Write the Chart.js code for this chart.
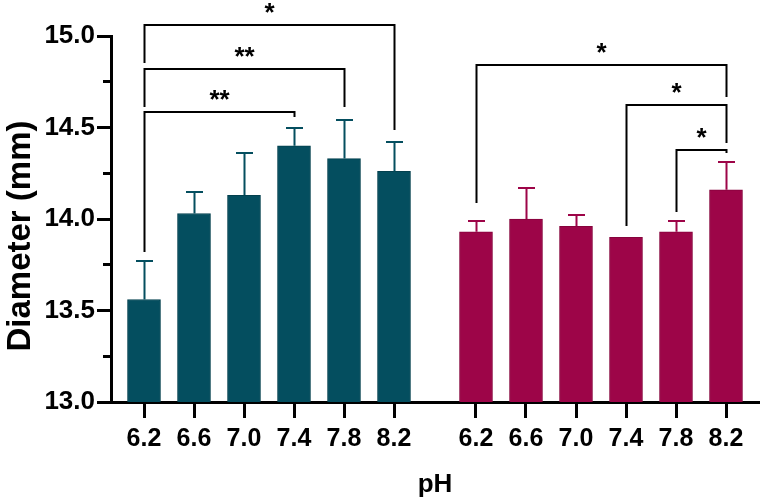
<!DOCTYPE html>
<html>
<head>
<meta charset="utf-8">
<script src="https://cdn.jsdelivr.net/npm/chart.js@4"></script>
<style>
  html, body { margin: 0; padding: 0; background: #fff; }
  #wrap { width: 762px; height: 500px; }
</style>
</head>
<body>
<div id="wrap"><canvas id="diameterChart"></canvas></div>
<script>
// pH values for each group
const phLabels = ['6.2', '6.6', '7.0', '7.4', '7.8', '8.2'];

// group 1 (teal) mean diameter and upper error
const tealMean = [13.56, 14.03, 14.13, 14.40, 14.33, 14.26];
const tealErr  = [0.21, 0.12, 0.23, 0.10, 0.21, 0.16];

// group 2 (magenta) mean diameter and upper error
const redMean = [13.93, 14.00, 13.96, 13.90, 13.93, 14.16];
const redErr  = [0.06, 0.17, 0.06, 0.00, 0.06, 0.15];

// y axis ticks (major ones get labels)
const yTickValues = [13.0, 13.25, 13.5, 13.75, 14.0, 14.25, 14.5, 14.75, 15.0];

// significance brackets: group, from/to bar index, level and leg ends (in mm)
const brackets = [
  { group: 0, from: 0, to: 3, level: 14.585, leftEnd: 13.82,  rightEnd: 14.557, label: '**' },
  { group: 0, from: 0, to: 4, level: 14.82,  leftEnd: 14.612, rightEnd: 14.612, label: '**' },
  { group: 0, from: 0, to: 5, level: 15.06,  leftEnd: 14.852, rightEnd: 14.486, label: '*' },
  { group: 1, from: 0, to: 5, level: 14.842, leftEnd: 14.087, rightEnd: 14.667, label: '*' },
  { group: 1, from: 3, to: 5, level: 14.623, leftEnd: 13.962, rightEnd: 14.415, label: '*' },
  { group: 1, from: 4, to: 5, level: 14.377, leftEnd: 14.038, rightEnd: 14.361, label: '*' }
];

const TEAL = '#044E5F';
const RED = '#9D0548';
const FONT = '"Liberation Sans", Arial, sans-serif';

// position of each bar on the x axis (second group shifted right)
const groupShift = [0, 6.64];
const xPos = (g, i) => i + groupShift[g];
const xTicks = [...phLabels.map((_, i) => xPos(0, i)), ...phLabels.map((_, i) => xPos(1, i))];
const xTickText = [...phLabels, ...phLabels];

const isMajor = v => Math.abs(v * 2 - Math.round(v * 2)) < 1e-6;

const errBars = {
  id: 'errBars',
  afterDatasetsDraw(chart) {
    const { ctx, scales: { x, y } } = chart;
    const sets = [[tealMean, tealErr, TEAL], [redMean, redErr, RED]];
    ctx.save();
    ctx.lineWidth = 2;
    sets.forEach(([mean, err, col], g) => {
      ctx.strokeStyle = col;
      mean.forEach((m, i) => {
        if (!err[i]) return;
        const px = Math.round(x.getPixelForValue(xPos(g, i))) + 0.5;
        const yb = y.getPixelForValue(m);
        const yt = Math.round(y.getPixelForValue(m + err[i]));
        ctx.beginPath();
        ctx.moveTo(px, yb);
        ctx.lineTo(px, yt);
        ctx.moveTo(px - 8.5, yt);
        ctx.lineTo(px + 8.5, yt);
        ctx.stroke();
      });
    });
    ctx.restore();
  },
  afterDraw(chart) {
    const { ctx, scales: { x, y } } = chart;
    const left = y.right;
    ctx.save();
    // shorten the minor y ticks: paint over their outer part
    ctx.fillStyle = '#ffffff';
    y.ticks.forEach(t => {
      if (isMajor(t.value)) return;
      const py = y.getPixelForValue(t.value);
      ctx.fillRect(left - 16, py - 3, 8, 6);
    });
    // brackets
    ctx.strokeStyle = '#000';
    ctx.lineWidth = 2;
    ctx.fillStyle = '#000';
    ctx.font = 'bold 26px ' + FONT;
    ctx.textAlign = 'center';
    ctx.textBaseline = 'alphabetic';
    brackets.forEach(b => {
      const x1 = Math.round(x.getPixelForValue(xPos(b.group, b.from))) + 0.5;
      const x2 = Math.round(x.getPixelForValue(xPos(b.group, b.to))) + 0.5;
      const yl = Math.round(y.getPixelForValue(b.level));
      ctx.beginPath();
      ctx.moveTo(x1, y.getPixelForValue(b.leftEnd));
      ctx.lineTo(x1, yl);
      ctx.lineTo(x2, yl);
      ctx.lineTo(x2, y.getPixelForValue(b.rightEnd));
      ctx.stroke();
      ctx.fillText(b.label, (x1 + x2) / 2, yl - 4);
    });
    // y axis title
    ctx.translate(21, 236);
    ctx.rotate(-Math.PI / 2);
    ctx.font = 'bold 33px ' + FONT;
    ctx.textBaseline = 'middle';
    ctx.fillText('Diameter (mm)', 0, 0);
    ctx.restore();
  }
};

new Chart(document.getElementById('diameterChart'), {
  type: 'bar',
  data: {
    datasets: [
      {
        label: 'group 1',
        data: tealMean.map((m, i) => ({ x: xPos(0, i), y: m })),
        backgroundColor: TEAL,
        borderColor: '#03404E',
        borderWidth: 1,
        barThickness: 33,
        grouped: false
      },
      {
        label: 'group 2',
        data: redMean.map((m, i) => ({ x: xPos(1, i), y: m })),
        backgroundColor: RED,
        borderColor: '#86033C',
        borderWidth: 1,
        barThickness: 33,
        grouped: false
      }
    ]
  },
  options: {
    responsive: true,
    maintainAspectRatio: false,
    animation: false,
    layout: { padding: { top: 36, right: 3, left: 0, bottom: 0 } },
    plugins: {
      legend: { display: false },
      tooltip: { enabled: false }
    },
    scales: {
      x: {
        type: 'linear',
        min: -0.66,
        max: 12.3,
        offset: false,
        afterBuildTicks: s => { s.ticks = xTicks.map(v => ({ value: v })); },
        afterFit: s => { s.height = 98; },
        border: { display: true, width: 3, color: '#000' },
        grid: { offset: false, drawOnChartArea: false, tickLength: 16, tickWidth: 3, tickColor: '#000' },
        ticks: {
          autoSkip: false,
          maxRotation: 0,
          padding: 6,
          color: '#000',
          font: { family: FONT, size: 25, weight: 'bold' },
          callback: (v, i) => xTickText[i]
        },
        title: {
          display: true,
          text: 'pH',
          color: '#000',
          font: { family: FONT, size: 26, weight: 'bold' },
          padding: { top: 7, bottom: 0 }
        }
      },
      y: {
        min: 13,
        max: 15,
        afterBuildTicks: s => { s.ticks = yTickValues.map(v => ({ value: v })); },
        afterFit: s => { s.width = 111; },
        border: { display: true, width: 3, color: '#000' },
        grid: { drawOnChartArea: false, tickLength: 14, tickWidth: 3, tickColor: '#000' },
        ticks: {
          padding: 2,
          color: '#000',
          font: { family: FONT, size: 26, weight: 'bold' },
          callback: v => (isMajor(v) ? v.toFixed(1) : '')
        }
      }
    }
  },
  plugins: [errBars]
});
</script>
</body>
</html>
